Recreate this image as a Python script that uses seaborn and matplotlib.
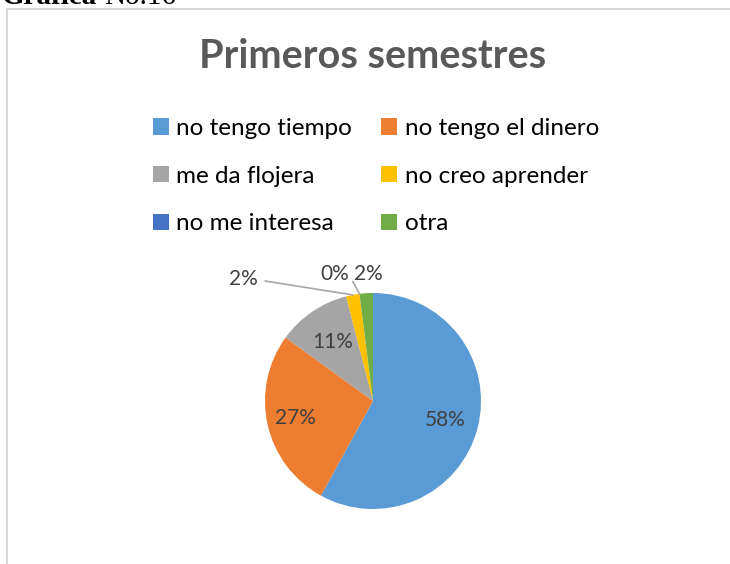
import matplotlib as mpl
mpl.use("Agg")

import matplotlib.pyplot as plt
import seaborn as sns
import numpy as np
from matplotlib.patches import Rectangle

sns.set_theme(style="white")
plt.rcParams["font.family"] = ["Lato", "DejaVu Sans"]

categories = ["no tengo tiempo", "no tengo el dinero", "me da flojera",
              "no creo aprender", "no me interesa", "otra"]
percentages = [58, 27, 11, 2, 0, 2]
colors = ["#5B9BD5", "#ED7D31", "#A5A5A5", "#FFC000", "#4472C4", "#70AD47"]

W, H = 730, 564
fig = plt.figure(figsize=(W / 100, H / 100), dpi=100)

# chart frame (only top and left edges fall inside the image)
fig.add_artist(Rectangle((7 / W, -0.1), 2, 1 - 9 / H + 0.1, transform=fig.transFigure,
                         fill=False, edgecolor="#D9D9D9", linewidth=1.5))

# caption cut off at the top, as in the source page
fig.text(2 / W, 1 - 4 / H, "Gráfica", family="Liberation Serif", weight="bold",
         fontsize=21, va="baseline", ha="left", color="black")
fig.text(104 / W, 1 - 4 / H, "No.16", family="Liberation Serif",
         fontsize=21, va="baseline", ha="left", color="black")

fig.text(373 / W, 1 - 57 / H, "Primeros semestres", ha="center", va="center",
         fontsize=28.5, weight="bold", color="#595959")

cx, cy, r = 373, 401, 108
ax = fig.add_axes([(cx - r) / W, (H - cy - r) / H, 2 * r / W, 2 * r / H])
wedges, _ = ax.pie(percentages, colors=colors, startangle=90, counterclock=False,
                   radius=1, wedgeprops=dict(linewidth=0))
ax.set_xlim(-1, 1)
ax.set_ylim(-1, 1)

txt_color = "#404040"
# labels inside the big slices
inner_r = [0.69, 0.74, 0.66]
for w, p, rr in zip(wedges[:3], percentages[:3], inner_r):
    a = np.deg2rad((w.theta1 + w.theta2) / 2)
    ax.text(rr * np.cos(a), rr * np.sin(a), f"{p}%", ha="center", va="center",
            fontsize=15, color=txt_color)

# labels of the thin slices, outside
outer_pos = [(-1.2, 1.13), (-0.35, 1.18), (-0.04, 1.18)]
for i, (w, p, pos) in enumerate(zip(wedges[3:], percentages[3:], outer_pos)):
    a = np.deg2rad((w.theta1 + w.theta2) / 2)
    tip = (np.cos(a), np.sin(a))
    if i == 0:
        ax.annotate(f"{p}%", xy=tip, xytext=pos, ha="center", va="center",
                    fontsize=15, color=txt_color, annotation_clip=False,
                    arrowprops=dict(arrowstyle="-", color="#A6A6A6", lw=1.2,
                                    shrinkA=3, shrinkB=0,
                                    connectionstyle="angle,angleA=0,angleB=171,rad=0"))
    elif i == 1:
        ax.annotate(f"{p}%", xy=tip, xytext=pos, ha="center", va="center",
                    fontsize=15, color=txt_color, annotation_clip=False,
                    arrowprops=dict(arrowstyle="-", color="#A6A6A6", lw=1.2,
                                    shrinkA=0, shrinkB=0, relpos=(1.0, 0.4)))
    else:
        ax.text(pos[0], pos[1], f"{p}%", ha="center", va="center",
                fontsize=15, color=txt_color)

# legend is filled row by row in the reference
order = [0, 2, 4, 1, 3, 5]
fig.legend([wedges[i] for i in order], [categories[i] for i in order], ncol=2,
           loc="upper left", bbox_to_anchor=(153 / W, 1 - 118 / H), frameon=False,
           fontsize=17.5, borderpad=0, borderaxespad=0,
           handlelength=0.66, handleheight=0.66, handletextpad=0.3,
           columnspacing=1.2, labelspacing=1.1, labelcolor="black")

fig.savefig("out.png", dpi=100)
